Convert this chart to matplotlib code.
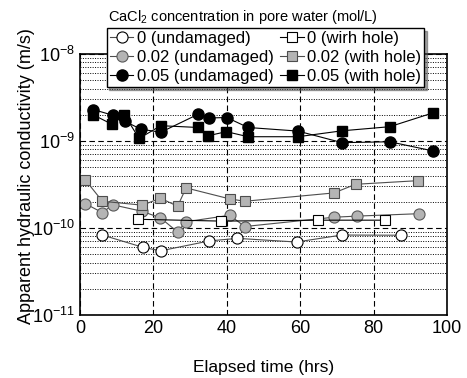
import numpy as np
import matplotlib.pyplot as plt
from matplotlib.ticker import FixedLocator, NullFormatter, LogFormatterSciNotation

plt.rcParams['font.family'] = ['Liberation Sans', 'DejaVu Sans']
plt.rcParams['mathtext.fontset'] = 'custom'
plt.rcParams['mathtext.rm'] = 'Liberation Sans'

# 0 mol/L, undamaged
t_0u = [6.1, 17.3, 22.0, 35.2, 42.9, 59.0, 71.3, 87.5]
k_0u = [8.3e-11, 5.97e-11, 5.47e-11, 7.1e-11, 7.6e-11, 6.9e-11, 8.3e-11, 8.26e-11]
# 0.02 mol/L, undamaged
t_2u = [1.4, 6.1, 8.9, 16.8, 21.9, 26.6, 28.8, 40.8, 44.9, 69.2, 75.5, 92.3]
k_2u = [1.91e-10, 1.5e-10, 1.85e-10, 1.56e-10, 1.31e-10, 9.0e-11, 1.18e-10,
        1.40e-10, 1.04e-10, 1.33e-10, 1.37e-10, 1.46e-10]
# 0.05 mol/L, undamaged
t_5u = [3.6, 8.9, 12.2, 16.5, 22.0, 32.2, 35.1, 40.0, 45.8, 59.4, 71.4, 84.4, 96.1]
k_5u = [2.30e-9, 1.98e-9, 1.69e-9, 1.37e-9, 1.26e-9, 2.03e-9, 1.84e-9,
        1.86e-9, 1.43e-9, 1.30e-9, 0.957e-9, 0.98e-9, 0.77e-9]
# 0 mol/L, with hole
t_0h = [15.7, 38.5, 64.9, 83.1]
k_0h = [1.26e-10, 1.2e-10, 1.23e-10, 1.23e-10]
# 0.02 mol/L, with hole
t_2h = [1.4, 6.1, 17.0, 21.9, 26.6, 28.9, 40.8, 44.9, 69.2, 75.1, 92.1]
k_2h = [3.59e-10, 2.03e-10, 1.83e-10, 2.2e-10, 1.78e-10, 2.89e-10, 2.16e-10,
        2.03e-10, 2.53e-10, 3.18e-10, 3.5e-10]
# 0.05 mol/L, with hole
t_5h = [3.6, 8.8, 12.1, 16.1, 22.0, 32.2, 34.9, 39.9, 45.8, 59.4, 71.4, 84.4, 96.1]
k_5h = [2.0e-9, 1.55e-9, 2.0e-9, 1.07e-9, 1.5e-9, 1.43e-9, 1.15e-9,
        1.28e-9, 1.12e-9, 1.12e-9, 1.31e-9, 1.46e-9, 2.1e-9]

x_ticks = [0, 20, 40, 60, 80, 100]
y_ticks = [1e-11, 1e-10, 1e-9, 1e-8]

fig = plt.figure(figsize=(4.67, 3.78), dpi=100)
ax = fig.add_axes([80/467, 1-315/378, 367/467, 261/378])

gray = '#b4b4b4'
ms_c = 8
ms_s = 6.5
ax.plot(t_0u, k_0u, '-o', color='0.3', lw=0.8, ms=ms_c, mfc='white', mec='black', mew=0.8,
        label='0 (undamaged)')
ax.plot(t_2u, k_2u, '-o', color='0.3', lw=0.8, ms=ms_c, mfc=gray, mec='0.35', mew=0.8,
        label='0.02 (undamaged)')
ax.plot(t_5u, k_5u, '-o', color='black', lw=0.8, ms=ms_c, mfc='black', mec='black',
        label='0.05 (undamaged)')
ax.plot(t_0h, k_0h, '-s', color='black', lw=0.8, ms=ms_s, mfc='white', mec='black', mew=0.8,
        label='0 (wirh hole)')
ax.plot(t_2h, k_2h, '-s', color='0.3', lw=0.8, ms=ms_s, mfc=gray, mec='0.3', mew=0.8,
        label='0.02 (with hole)')
ax.plot(t_5h, k_5h, '-s', color='black', lw=0.8, ms=ms_s, mfc='black', mec='black',
        label='0.05 (with hole)')

ax.set_yscale('log')
ax.set_xlim(0, 100)
ax.set_ylim(1e-11, 1e-8)
ax.xaxis.set_major_locator(FixedLocator(x_ticks))
ax.yaxis.set_major_locator(FixedLocator(y_ticks))
ax.yaxis.set_major_formatter(LogFormatterSciNotation())
minors = [m * d for d in y_ticks[:-1] for m in range(2, 10)]
ax.yaxis.set_minor_locator(FixedLocator(minors))
ax.yaxis.set_minor_formatter(NullFormatter())
ax.grid(True, which='major', axis='both', color='black', ls=(0, (5, 3)), lw=0.8)
ax.grid(True, which='minor', axis='y', color='black', ls=(0, (1, 1.5)), lw=0.7)
ax.tick_params(which='both', direction='in', labelsize=13, length=0)
for s in ax.spines.values():
    s.set_linewidth(1.2)

ax.set_xlabel('Elapsed time (hrs)', fontsize=12.5, labelpad=17)
ax.set_ylabel('Apparent hydraulic conductivity (m/s)', fontsize=13)
ax.yaxis.set_label_coords(-0.123, 0.533)

handles, labels = ax.get_legend_handles_labels()
leg = ax.legend(handles, labels, ncol=2, loc='upper center',
                bbox_to_anchor=((108+423)/2/467, 1-28/378), bbox_transform=fig.transFigure,
                fontsize=12, frameon=True, fancybox=False, shadow=True, framealpha=1,
                edgecolor='black', handlelength=1.4, handletextpad=0.2,
                columnspacing=0.4, labelspacing=0.22, borderpad=0.2, borderaxespad=0)
leg.get_frame().set_linewidth(1.0)
fig.text(243/467, 1-17/378, 'CaCl$_2$ concentration in pore water (mol/L)',
         fontsize=10.5, ha='center', va='center')

fig.savefig('out.png', dpi=100)
